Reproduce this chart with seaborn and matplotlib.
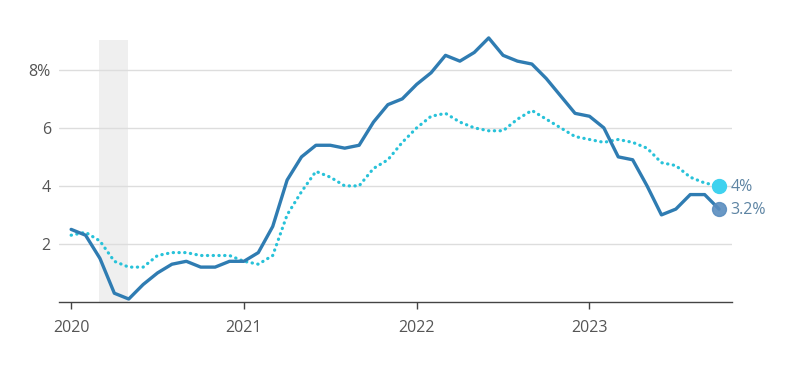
import pandas as pd
import matplotlib.pyplot as plt
import seaborn as sns
import numpy as np

sns.set_style("white")
plt.rcParams['font.family'] = ['Open Sans', 'DejaVu Sans']

# Monthly year-over-year change, Jan 2020 - Oct 2023
headline = [2.5, 2.3, 1.5, 0.3, 0.1, 0.6, 1.0, 1.3, 1.4, 1.2, 1.2, 1.4,
            1.4, 1.7, 2.6, 4.2, 5.0, 5.4, 5.4, 5.3, 5.4, 6.2, 6.8, 7.0,
            7.5, 7.9, 8.5, 8.3, 8.6, 9.1, 8.5, 8.3, 8.2, 7.7, 7.1, 6.5,
            6.4, 6.0, 5.0, 4.9, 4.0, 3.0, 3.2, 3.7, 3.7, 3.2]
core = [2.3, 2.4, 2.1, 1.4, 1.2, 1.2, 1.6, 1.7, 1.7, 1.6, 1.6, 1.6,
        1.4, 1.3, 1.6, 3.0, 3.8, 4.5, 4.3, 4.0, 4.0, 4.6, 4.9, 5.5,
        6.0, 6.4, 6.5, 6.2, 6.0, 5.9, 5.9, 6.3, 6.6, 6.3, 6.0, 5.7,
        5.6, 5.5, 5.6, 5.5, 5.3, 4.8, 4.7, 4.3, 4.1, 4.0]
year_labels = ['2020', '2021', '2022', '2023']
y_ticks = [2, 4, 6, 8]
y_tick_labels = ['2', '4', '6', '8%']
recession = (1.95, 3.95)

df = pd.DataFrame({'month': np.arange(len(headline)), 'headline': headline, 'core': core})

blue = '#2f7cb2'
cyan = '#28c2d9'

fig = plt.figure(figsize=(8, 3.7), dpi=100)
ax = fig.add_axes([0.074, 0.184, 0.841, 0.708])

ax.axvspan(*recession, color='#efefef', lw=0, zorder=0)

sns.lineplot(data=df, x='month', y='core', ax=ax, color=cyan, lw=2.3,
             linestyle=(0, (0.1, 1.7)), dash_capstyle='round', zorder=3)
sns.lineplot(data=df, x='month', y='headline', ax=ax, color=blue, lw=2.4,
             solid_joinstyle='round', solid_capstyle='round', zorder=4, clip_on=False)

last = df.iloc[-1]
ax.plot(last['month'], last['core'], 'o', ms=10, color='#3fd2ef', zorder=5)
ax.plot(last['month'], last['headline'], 'o', ms=10, color='#5a8dbf', alpha=0.9, zorder=5)
ax.annotate(f"{last['core']:g}%", (last['month'], last['core']), xytext=(8, -1),
            textcoords='offset points', va='center', fontsize=11.5, color='#5d84a3')
ax.annotate(f"{last['headline']:g}%", (last['month'], last['headline']), xytext=(8, -1),
            textcoords='offset points', va='center', fontsize=11.5, color='#5d84a3')

ax.set_xlim(-0.83, 45.9)
ax.set_ylim(0, 9.03)
ax.set_xticks([0, 12, 24, 36])
ax.set_xticklabels(year_labels)
ax.set_yticks(y_ticks)
ax.set_yticklabels(y_tick_labels)
ax.set_xlabel('')
ax.set_ylabel('')
ax.grid(axis='y', color='#dddddd', lw=1)
ax.grid(axis='x', visible=False)
for s in ['top', 'right', 'left']:
    ax.spines[s].set_visible(False)
ax.spines['bottom'].set_color('#444444')
ax.spines['bottom'].set_linewidth(1)
ax.tick_params(axis='x', length=5, width=1, color='#444444', pad=8,
               labelsize=11.5, labelcolor='#555555', bottom=True)
ax.tick_params(axis='y', length=0, pad=6, labelsize=11.5, labelcolor='#555555')

fig.savefig('out.png', dpi=100)
